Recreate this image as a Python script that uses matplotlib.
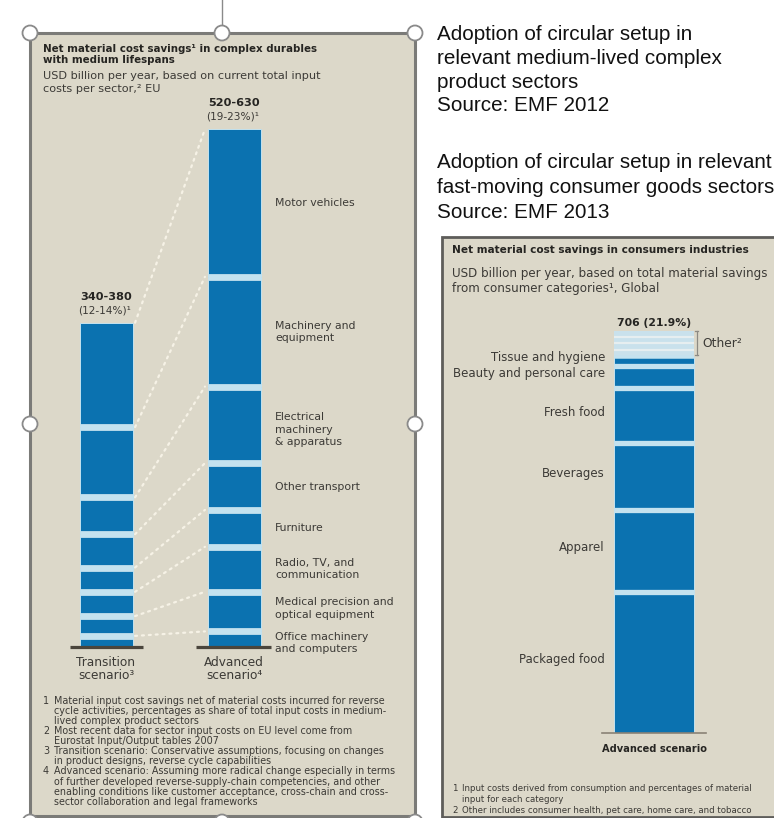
import numpy as np
import matplotlib
matplotlib.use("Agg")
import matplotlib.pyplot as plt
from matplotlib.patches import Rectangle, Circle

# ---------------- data ----------------
sectors = ["Motor vehicles", "Machinery and\nequipment", "Electrical\nmachinery\n& apparatus",
           "Other transport", "Furniture", "Radio, TV, and\ncommunication",
           "Medical precision and\noptical equipment", "Office machinery\nand computers"]
transition_savings = [116, 78, 41, 37, 27, 27, 22, 12]
advanced_savings = [164, 122, 85, 52, 41, 50, 44, 17]
scenario_labels = ["Transition\nscenario³", "Advanced\nscenario⁴"]
range_labels = ["340-380", "520-630"]
share_labels = ["(12-14%)¹", "(19-23%)¹"]

consumer_categories = ["Tissue and hygiene", "Beauty and personal care", "Fresh food",
                       "Beverages", "Apparel", "Packaged food"]
consumer_savings = [16, 39, 96, 118, 143, 248]
other_savings_parts = [12, 12, 11, 11]
consumer_total_label = "706 (21.9%)"
consumer_scenario = "Advanced scenario"

# ---------------- style ----------------
W, H, DPI = 774, 818, 100
FONT = ["DejaVu Sans"]
ARIAL = ["Liberation Sans", "DejaVu Sans"]
PANEL_BG = "#dcd8c9"
BLUE = "#0b72b0"
GAP = "#c4e2ef"
TXT = "#3c3a36"
DARK = "#262522"
plt.rcParams["font.family"] = FONT

fig = plt.figure(figsize=(W / DPI, H / DPI), dpi=DPI)
fig.patch.set_facecolor("white")

# full-figure canvas in pixel units for the panel frames and text blocks
cv = fig.add_axes([0, 0, 1, 1], zorder=0)
cv.set_xlim(0, W)
cv.set_ylim(H, 0)
cv.axis("off")


def frac(x0, y0, x1, y1):
    return [x0 / W, 1 - y1 / H, (x1 - x0) / W, (y1 - y0) / H]


def px_to_pt(p):
    return p * 72.0 / DPI


# ---- panel frames ----
cv.add_patch(Rectangle((30, 33), 385, 783, fc=PANEL_BG, ec="#7b7b78", lw=2.2))
cv.add_patch(Rectangle((442, 237), 345, 580, fc=PANEL_BG, ec="#5e5d5a", lw=2.0))

# selection handles around the left panel
cv.plot([222, 222], [0, 25], color="#8a8a8a", lw=1.0)
for hx, hy in [(30, 33), (222, 33), (415, 33), (30, 424), (415, 424),
               (30, 822), (222, 822), (415, 822)]:
    cv.add_patch(Circle((hx, hy), 7.5, fc="white", ec="#8a8a8a", lw=1.3, zorder=5))

# ---- explanatory text on the right ----
block1 = ["Adoption of circular setup in", "relevant medium-lived complex",
          "product sectors", "Source: EMF 2012"]
block2 = ["Adoption of circular setup in relevant",
          "fast-moving consumer goods sectors", "Source: EMF 2013"]
for i, line in enumerate(block1):
    cv.text(437, 35 + i * 23.5, line, family=ARIAL, fontsize=14.9, color="#111111",
            va="center", ha="left")
for i, line in enumerate(block2):
    cv.text(437, 163 + i * 24.5, line, family=ARIAL, fontsize=14.9, color="#111111",
            va="center", ha="left")

# ---- left panel headings ----
cv.text(43, 48.5, "Net material cost savings¹ in complex durables", fontsize=7.4,
        weight="bold", color=DARK, va="center")
cv.text(43, 60, "with medium lifespans", fontsize=7.4, weight="bold", color=DARK, va="center")
cv.text(43, 76, "USD billion per year, based on current total input", fontsize=8.15,
        color=TXT, va="center")
cv.text(43, 89, "costs per sector,² EU", fontsize=8.15, color=TXT, va="center")

left_notes = [
    ("1", ["Material input cost savings net of material costs incurred for reverse",
           "cycle activities, percentages as share of total input costs in medium-",
           "lived complex product sectors"]),
    ("2", ["Most recent data for sector input costs on EU level come from",
           "Eurostat Input/Output tables 2007"]),
    ("3", ["Transition scenario: Conservative assumptions, focusing on changes",
           "in product designs, reverse cycle capabilities"]),
    ("4", ["Advanced scenario: Assuming more radical change especially in terms",
           "of further developed reverse-supply-chain competencies, and other",
           "enabling conditions like customer acceptance, cross-chain and cross-",
           "sector collaboration and legal frameworks"]),
]
y = 700.7
for num, lines in left_notes:
    cv.text(43, y, num, fontsize=6.9, color=TXT, va="center")
    for ln in lines:
        cv.text(54, y, ln, fontsize=6.9, color=TXT, va="center")
        y += 10.1

# ---- right panel headings ----
cv.text(452, 250, "Net material cost savings in consumers industries", fontsize=7.55,
        weight="bold", color=DARK, va="center")
cv.text(452, 274, "USD billion per year, based on total material savings", fontsize=8.6,
        color=TXT, va="center")
cv.text(452, 288.5, "from consumer categories¹, Global", fontsize=8.6, color=TXT, va="center")

right_notes = [
    ("1", ["Input costs derived from consumption and percentages of material",
           "input for each category"]),
    ("2", ["Other includes consumer health, pet care, home care, and tobacco"]),
]
y = 788.3
for num, lines in right_notes:
    cv.text(452, y, num, fontsize=6.2, color=TXT, va="center")
    for ln in lines:
        cv.text(462, y, ln, fontsize=6.2, color=TXT, va="center")
        y += 11.0


# ---------------- stacked bar helper ----------------
def stack(ax, x, values_top_down, width, gap_px):
    vals = np.array(values_top_down[::-1], dtype=float)
    bottoms = np.concatenate([[0.0], np.cumsum(vals)[:-1]])
    ax.bar([x] * len(vals), vals, width, bottom=bottoms, color=BLUE,
           edgecolor=GAP, linewidth=0.7, zorder=2)
    ax.hlines(np.cumsum(vals)[:-1], x - width / 2, x + width / 2, colors=GAP,
              lw=px_to_pt(gap_px), zorder=3)
    total = vals.sum()
    tops = total - np.cumsum(values_top_down)
    centers = tops + np.array(values_top_down) / 2
    bounds = np.concatenate([[total], tops[:-1]])
    return total, centers, bounds


# ---------------- left chart: complex durables ----------------
s_left = 0.9          # px per USD bn
base_left = 646.7
top_left = 40
x_unit = 128.0
ax_l = fig.add_axes(frac(30, top_left, 415, base_left), zorder=1)
ax_l.set_facecolor("none")
ax_l.set_ylim(0, (base_left - top_left) / s_left)
ax_l.set_xlim(-(106 - 30) / x_unit, 1 + (415 - 234) / x_unit)
ax_l.axis("off")
bw = 53 / x_unit

tot_t, cen_t, bnd_t = stack(ax_l, 0, transition_savings, bw, 6.8)
tot_a, cen_a, bnd_a = stack(ax_l, 1, advanced_savings, bw, 6.8)

# dotted connectors between matching segment boundaries
for bt, ba in zip(bnd_t, bnd_a):
    ax_l.plot([bw / 2 + 0.02, 1 - bw / 2 - 0.02], [bt, ba], color="#f6f2e6",
              lw=1.6, ls=(0, (0.9, 2.2)), dash_capstyle="round", zorder=1)

# baselines
ax_l.plot([-0.28, 0.29], [0, 0], color="#4a453c", lw=2.3, clip_on=False, zorder=4,
          solid_capstyle="butt")
ax_l.plot([0.70, 1.29], [0, 0], color="#4a453c", lw=2.3, clip_on=False, zorder=4,
          solid_capstyle="butt")

for xi, tot, rl, sl in zip([0, 1], [tot_t, tot_a], range_labels, share_labels):
    ax_l.annotate(rl, (xi, tot), xytext=(0, px_to_pt(26)), textcoords="offset points",
                  ha="center", va="center", fontsize=8.1, weight="bold", color=DARK)
    ax_l.annotate(sl, (xi, tot), xytext=(-1, px_to_pt(12.5)), textcoords="offset points",
                  ha="center", va="center", fontsize=7.6, color=TXT)

for xi, lab in zip([0, 1], scenario_labels):
    ax_l.annotate(lab, (xi, 0), xytext=(0, -px_to_pt(22.5)), textcoords="offset points",
                  ha="center", va="center", fontsize=8.7, color=TXT, linespacing=0.95)

label_shift = [0, 0, 5, 0, 0, 0, -3, 4]   # px, nudges multi-line labels off the centre
for lab, c, d in zip(sectors, cen_a, label_shift):
    ax_l.annotate(lab, (1 + (275 - 234) / x_unit, c), xytext=(0, -px_to_pt(d)),
                  textcoords="offset points", ha="left", va="center", fontsize=7.8,
                  color=TXT, linespacing=1.3)

# ---------------- right chart: consumer industries ----------------
s_right = 402.6 / 706
base_right = 733.3
top_right = 300
xu = 100.0
ax_r = fig.add_axes(frac(442, top_right, 774, base_right), zorder=1)
ax_r.set_facecolor("none")
ax_r.set_ylim(0, (base_right - top_right) / s_right)
ax_r.set_xlim(-(654 - 442) / xu, (774 - 654) / xu)
ax_r.axis("off")
rbw = 80 / xu

tot_main, cen_r, _ = stack(ax_r, 0, consumer_savings, rbw, 5.3)
# stacked "Other" block on top, split into its sub-categories
other = np.array(other_savings_parts, dtype=float)
ob = tot_main + np.concatenate([[0.0], np.cumsum(other)[:-1]])
ax_r.bar([0] * len(other), other, rbw, bottom=ob, color="#c9e1ec", edgecolor="none", zorder=2)
ax_r.hlines(ob[1:], -rbw / 2, rbw / 2, colors="#e6eef0", lw=px_to_pt(2.2), zorder=3)
ax_r.hlines([tot_main], -rbw / 2, rbw / 2, colors=GAP, lw=px_to_pt(3.5), zorder=3)
tot_all = tot_main + other.sum()

# bracket marking "Other"
bx = 0.425
ax_r.plot([bx, bx], [tot_main + 3, tot_all], color="#8c8a84", lw=0.9, zorder=3)
for yy in [tot_main + 3, tot_all]:
    ax_r.plot([bx - 0.015, bx + 0.015], [yy, yy], color="#8c8a84", lw=0.9, zorder=3)
ax_r.annotate("Other²", (bx, (tot_main + tot_all) / 2), xytext=(4, 0),
              textcoords="offset points", ha="left", va="center", fontsize=8.8, color=TXT)

ax_r.annotate(consumer_total_label, (0, tot_all), xytext=(0, px_to_pt(8)),
              textcoords="offset points", ha="center", va="center", fontsize=7.8,
              weight="bold", color=DARK)

for lab, c in zip(consumer_categories, cen_r):
    ax_r.annotate(lab, (-0.49, c), xytext=(0, px_to_pt(3.5)), textcoords="offset points",
                  ha="right", va="center", fontsize=8.5, color=TXT)

ax_r.plot([-0.52, 0.52], [0, 0], color="#8a8276", lw=1.2, clip_on=False, zorder=4)
ax_r.annotate(consumer_scenario, (0, 0), xytext=(0, -px_to_pt(16)),
              textcoords="offset points", ha="center", va="center", fontsize=7.1,
              weight="bold", color=DARK)

fig.savefig("out.png", dpi=DPI, facecolor="white")
